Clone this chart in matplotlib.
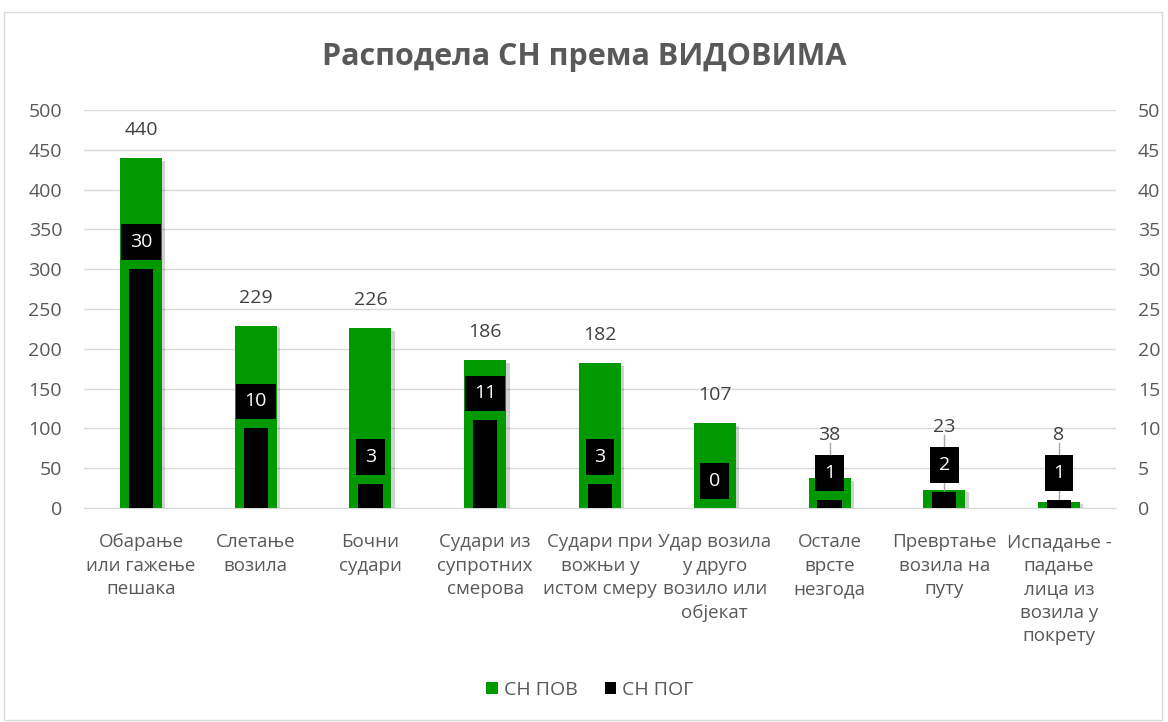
import matplotlib
matplotlib.use("Agg")
import matplotlib.pyplot as plt
import matplotlib.patheffects as pe
from matplotlib.patches import Rectangle, Patch
import numpy as np

categories = ["Обарање\nили гажење\nпешака", "Слетање\nвозила", "Бочни\nсудари",
              "Судари из\nсупротних\nсмерова", "Судари при\nвожњи у\nистом смеру",
              "Удар возила\nу друго\nвозило или\nобјекат", "Остале\nврсте\nнезгода",
              "Превртање\nвозила на\nпуту", "Испадање -\nпадање\nлица из\nвозила у\nпокрету"]
sn_pov = [440, 229, 226, 186, 182, 107, 38, 23, 8]
sn_pog = [30, 10, 3, 11, 3, 0, 1, 2, 1]
left_ticks = [0, 50, 100, 150, 200, 250, 300, 350, 400, 450, 500]
right_ticks = [0, 5, 10, 15, 20, 25, 30, 35, 40, 45, 50]

plt.rcParams['font.family'] = ['Open Sans', 'DejaVu Sans']
TXT = '#595959'
LBL = '#404040'
GREEN = '#009900'
FS = 14

fig = plt.figure(figsize=(11.68, 7.22), dpi=100)
fig.patches.append(Rectangle((4/1168, 1-720/722), 1158/1168, 708/722, transform=fig.transFigure,
                             fill=False, edgecolor='#d9d9d9', linewidth=1))
ax = fig.add_axes([83.6/1168, 1-508/722, (1116.4-83.6)/1168, 398/722])
ax2 = ax.twinx()

x = np.arange(len(categories))
bars = ax.bar(x, sn_pov, width=0.366, color=GREEN, zorder=2)
for b in bars:
    b.set_path_effects([pe.SimplePatchShadow(offset=(2.5, -2), shadow_rgbFace='#000000', alpha=0.18),
                        pe.Normal()])
ax.set_ylim(0, 500)
ax.set_xlim(-0.5, len(categories) - 0.5)
ax.set_yticks(left_ticks)
ax.grid(axis='y', color='#d9d9d9', linewidth=1, zorder=0)
ax.set_axisbelow(True)
for s in ['top', 'left', 'right']:
    ax.spines[s].set_visible(False)
ax.spines['bottom'].set_color('#d9d9d9')
ax.tick_params(axis='both', length=0, labelsize=FS, colors=TXT)
ax.tick_params(axis='y', pad=15.5)
ax.set_xticks(x)
ax.set_xticklabels(categories, linespacing=1.4, fontsize=13.5)
ax.tick_params(axis='x', pad=18)

# green value labels: above the bar, or above the black label box if that is higher
for xi, v, g in zip(x, sn_pov, sn_pog):
    y_bar = v + 35
    y_box = g * 10 + 82.3
    if y_box > y_bar:
        ax.plot([xi, xi], [v, y_box - 11], color='#a6a6a6', linewidth=1, zorder=3)
        yl = y_box
    else:
        yl = y_bar
    ax.text(xi, yl, str(v), ha='center', va='center', fontsize=FS, color=LBL, zorder=4)

ax2.bar(x, sn_pog, width=0.21, color='black', zorder=3)
ax2.set_ylim(0, 50)
ax2.set_yticks(right_ticks)
for s in ['top', 'left', 'right', 'bottom']:
    ax2.spines[s].set_visible(False)
ax2.tick_params(axis='y', length=0, labelsize=FS, colors=TXT, pad=15.5)
for xi, v in zip(x, sn_pog):
    ax2.annotate(str(v), (xi, v), xytext=(0, 19.5), textcoords='offset points',
                 ha='center', va='center', fontsize=FS, color='white',
                 bbox=dict(boxstyle='square,pad=0.45', facecolor='black', edgecolor='none'), zorder=5)

fig.text(0.5, 1-57/722, 'Расподела СН према ВИДОВИМА', ha='center', va='center',
         fontsize=22, fontweight='bold', color=TXT)

handles = [Patch(facecolor=GREEN, label='СН ПОВ'), Patch(facecolor='black', label='СН ПОГ')]
fig.legend(handles=handles, loc='center', bbox_to_anchor=(590/1168, 1-690/722), ncol=2,
           frameon=False, fontsize=FS, labelcolor=TXT, handlelength=0.6, handleheight=0.6,
           handletextpad=0.3, columnspacing=1.4)

fig.savefig('out.png', dpi=100)
